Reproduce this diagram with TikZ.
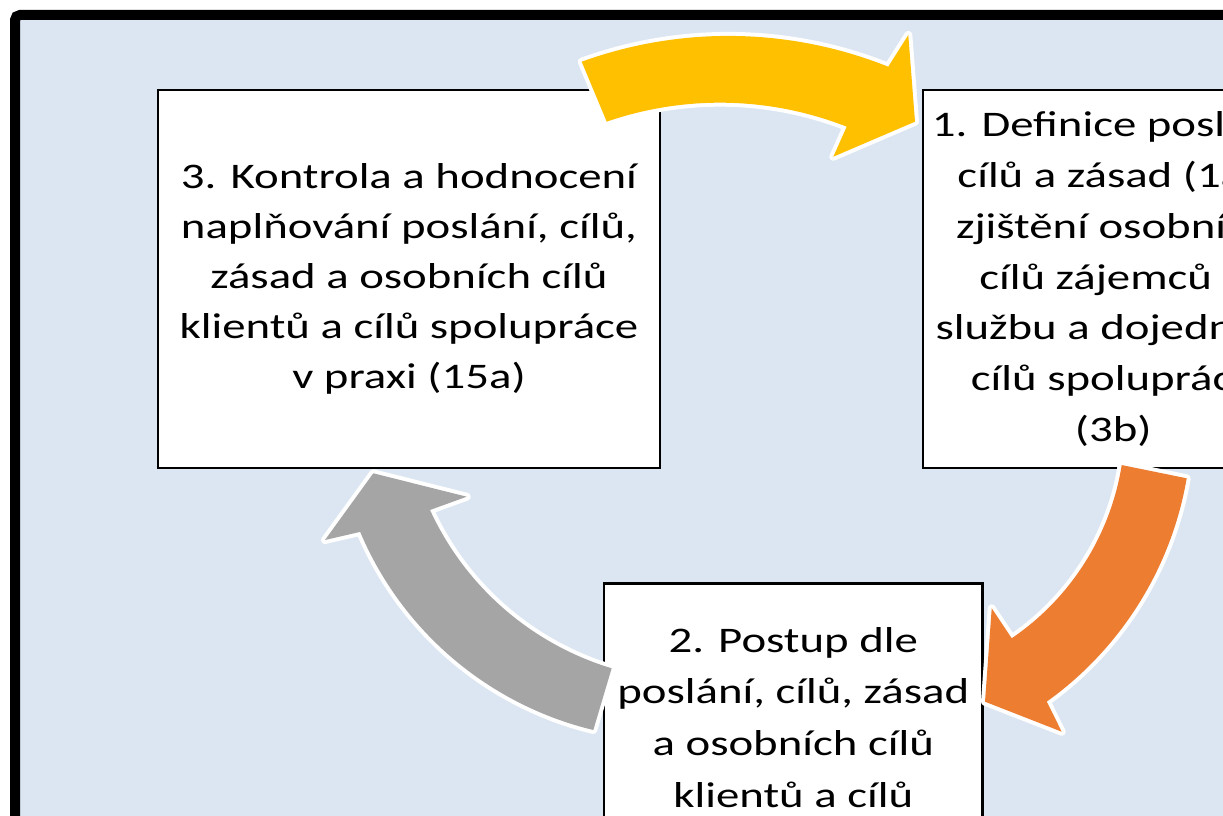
\documentclass[tikz,border=0pt]{standalone}
\usepackage{fontspec}
\setmainfont{Carlito}[FakeStretch=1.3]
\definecolor{bgblue}{HTML}{DCE6F2}
\definecolor{yel}{HTML}{FFC000}
\definecolor{ora}{HTML}{ED7D31}
\definecolor{gry}{HTML}{A5A5A5}
\begin{document}
\begin{tikzpicture}[x=1pt,y=-1pt,
  stepbox/.style={draw=black, line width=2.4pt, fill=white, align=center, inner sep=0pt,
    font=\fontsize{36}{50}\selectfont},
  steptext/.style={align=center, inner sep=0pt, font=\fontsize{36}{51.7}\selectfont},
  cyc/.style={fill=#1, preaction={draw=white, line width=8pt, line join=round}}]
\clip (0,0) rectangle (1223,816);
\fill[white] (0,0) rectangle (1223,816);
\draw[line width=10pt, fill=bgblue, rounded corners=5pt] (15,15) rectangle (1320,930);
% boxes
\node[stepbox, minimum width=502pt, minimum height=378pt] (b3) at (409,279)
  {3. Kontrola a hodnocení\\naplňování poslání, cílů,\\zásad a osobních cílů\\klientů a cílů spolupráce\\v praxi (15a)};
\node[stepbox, minimum width=381pt, minimum height=378pt, font=\fontsize{36}{50.8}\selectfont] (b1) at (1113.3,279)
  {1. Definice poslání,\\cílů a zásad (1a),\\zjištění osobních\\cílů zájemců o\\službu a dojednání\\cílů spolupráce\\(3b)};
\node[stepbox, minimum width=378.7pt, minimum height=378pt] (b2) at (793.3,772.3) {};
\node[steptext, anchor=north] (b2t) at (793.3,627)
  {2. Postup dle\\poslání, cílů, zásad\\a osobních cílů\\klientů a cílů};
% cycle arrows
\path[cyc=yel] (581.7,61.7) arc[start angle=-109.94, end angle=-68.19, radius=430.2]
  -- (908.3,35) -- (915,121.7) -- (833.3,156.7) -- (846.7,126.7)
  arc[start angle=-68.55, end angle=-109.06, radius=346.7] -- cycle;
\path[cyc=ora] (1186.7,478.3) arc[start angle=9.78, end angle=54.37, radius=347.4]
  -- (1061.7,731.7) -- (985,701.7) -- (991.7,608.3) -- (1011.7,638.3)
  arc[start angle=55.74, end angle=9.08, radius=259.1] -- cycle;
\path[cyc=gry] (593.3,730) arc[start angle=103.58, end angle=157.14, radius=339.5]
  -- (325,540) -- (373.3,473.3) -- (466.7,496.7) -- (430,510)
  arc[start angle=155.34, end angle=106.8, radius=293.1] -- cycle;
\end{tikzpicture}
\end{document}
